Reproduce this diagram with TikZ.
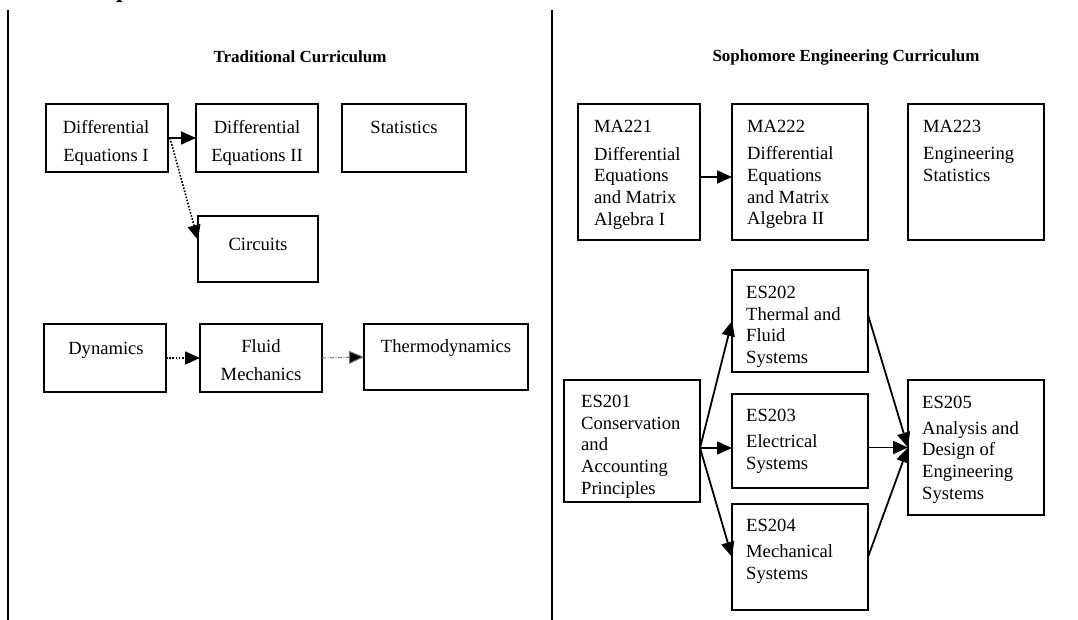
\documentclass[tikz,border=0pt]{standalone}
\usepackage{fontspec}
\setmainfont{Liberation Serif}
\usetikzlibrary{arrows.meta,calc}
\begin{document}
\begin{tikzpicture}[x=1pt,y=-1pt,
  box/.style={draw, line width=2pt, inner sep=0pt, outer sep=0pt, anchor=north west},
  ltxt/.style={anchor=north west, inner sep=0pt, align=left, font=\fontsize{18.6}{21.7}\selectfont},
  ctxt/.style={anchor=north, inner sep=0pt, align=center, font=\fontsize{18.6}{28.5}\selectfont},
  ttl/.style={anchor=base, inner sep=0pt, font=\bfseries\fontsize{17}{20}\selectfont},
  tip/.style={-{Triangle[length=15pt,width=13pt]}},
  arr/.style={line width=1.8pt, tip},
  darr/.style={line width=1.6pt, dash pattern=on 1.6pt off 1.6pt, tip},
  garr/.style={line width=1pt, draw=black!55, dash pattern=on 4pt off 1.5pt on 1pt off 1.5pt, -{Triangle[length=15pt,width=13pt,fill=black]}},
  divider/.style={line width=1.4pt}]
\useasboundingbox (0,0) rectangle (1078,620);

% partially visible heading letter
\node[anchor=base west, inner sep=0pt, font=\bfseries\fontsize{24}{24}\selectfont] (ptop) at (116,-2.5) {p};

% dividers
\coordinate (d1a) at (8,10);
\coordinate (d1b) at (8,620);
\coordinate (d2a) at (552,10);
\coordinate (d2b) at (552,620);
\draw[divider] (d1a) -- (d1b);
\draw[divider] (d2a) -- (d2b);

% titles
\node[ttl] (t1) at (300,63) {Traditional Curriculum};
\node[ttl] (t2) at (846,62) {Sophomore Engineering Curriculum};

% ---------- left panel boxes ----------
\node[box, minimum width=122pt, minimum height=68pt] (de1) at (46,104) {};
\node[box, minimum width=122pt, minimum height=68pt] (de2) at (196,104) {};
\node[box, minimum width=124pt, minimum height=68pt] (stat) at (342,104) {};
\node[box, minimum width=120pt, minimum height=66pt] (circ) at (198,216) {};
\node[box, minimum width=122pt, minimum height=68pt] (dyn) at (44,324) {};
\node[box, minimum width=122pt, minimum height=68pt] (fluid) at (200,324) {};
\node[box, minimum width=164pt, minimum height=66pt] (thermo) at (364,324) {};

\node[ctxt] (de1t) at (106,119) {\rule{0pt}{14pt}Differential\\Equations I};
\node[ctxt] (de2t) at (257,119) {\rule{0pt}{14pt}Differential\\Equations II};
\node[ctxt] (statt) at (404,119) {\rule{0pt}{14pt}Statistics};
\node[ctxt] (circt) at (258,236) {\rule{0pt}{14pt}Circuits};
\node[ctxt] (dynt) at (106,340) {\rule{0pt}{14pt}Dynamics};
\node[ctxt] (fluidt) at (261,338) {\rule{0pt}{14pt}Fluid\\Mechanics};
\node[ctxt] (thermot) at (446,338) {\rule{0pt}{14pt}Thermodynamics};

% left connectors
\draw[arr] (de1.east) -- (de2.west);
\draw[darr] ([xshift=2pt]de1.east) -- ([yshift=9pt]circ.west);
\draw[darr] (dyn.east) -- (fluid.west);
\draw[garr] (fluid.east) -- (thermo.west);

% ---------- right panel boxes ----------
\node[box, minimum width=122pt, minimum height=136pt] (ma221) at (578,104) {};
\node[box, minimum width=136pt, minimum height=136pt] (ma222) at (732,104) {};
\node[box, minimum width=136pt, minimum height=136pt] (ma223) at (908,104) {};
\node[box, minimum width=136pt, minimum height=102pt] (es202) at (732,270) {};
\node[box, minimum width=136pt, minimum height=94pt] (es203) at (732,394) {};
\node[box, minimum width=136pt, minimum height=106pt] (es204) at (732,504) {};
\node[box, minimum width=136pt, minimum height=122pt] (es201) at (564,380) {};
\node[box, minimum width=136pt, minimum height=135pt] (es205) at (908,380) {};

\node[ltxt] (ma221t) at (594,118.3) {\rule{0pt}{14pt}MA221\\[6pt]Differential\\Equations\\and Matrix\\Algebra I};
\node[ltxt] (ma222t) at (747,118) {\rule{0pt}{14pt}MA222\\[6pt]Differential\\Equations\\and Matrix\\Algebra II};
\node[ltxt] (ma223t) at (923,118) {\rule{0pt}{14pt}MA223\\[6pt]Engineering\\Statistics};
\node[ltxt] (es202t) at (746,284.3) {\rule{0pt}{14pt}ES202\\Thermal and\\Fluid\\Systems};
\node[ltxt] (es203t) at (746,407.7) {\rule{0pt}{14pt}ES203\\[4pt]Electrical\\Systems};
\node[ltxt] (es204t) at (746,517.7) {\rule{0pt}{14pt}ES204\\[4pt]Mechanical\\Systems};
\node[ltxt] (es201t) at (581,393.3) {\rule{0pt}{14pt}ES201\\Conservation\\and\\Accounting\\Principles};
\node[ltxt] (es205t) at (922,394.3) {\rule{0pt}{14pt}ES205\\[4pt]Analysis and\\Design of\\Engineering\\Systems};

% right connectors
\draw[arr] ([yshift=-5pt]ma221.east) -- ([yshift=-5pt]ma222.west);
\coordinate (j) at ([yshift=-7pt]es201.east);
\draw[arr] (j) -- (es202.west);
\draw[arr] (j) -- (j -| es203.west);
\draw[arr] (j) -- (es204.west);
\draw[arr] ([yshift=6pt]es202.east) -- (es205.west);
\draw[arr] (es205.west -| es203.east) -- (es205.west);
\draw[arr] (es204.east) -- (es205.west);
\end{tikzpicture}
\end{document}
